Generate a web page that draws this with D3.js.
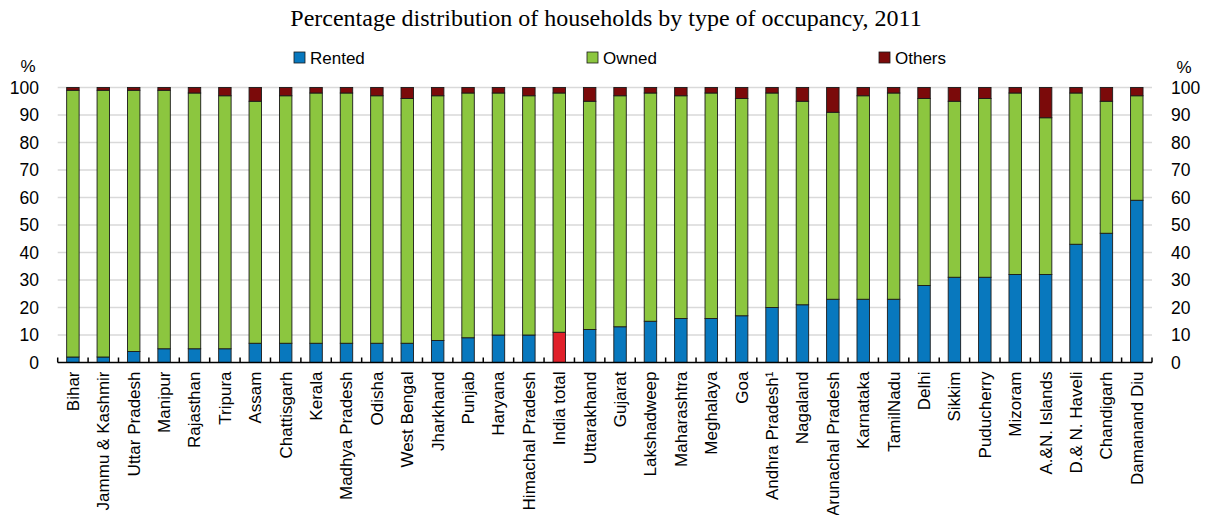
<!DOCTYPE html>
<html>
<head>
<meta charset="utf-8">
<script src="https://cdn.jsdelivr.net/npm/d3@7"></script>
<style>
  body { margin: 0; background: #fff; }
  svg { display: block; font-family: "Liberation Sans", Arial, sans-serif; }
</style>
</head>
<body>
<svg id="chart"></svg>
<script>
// states, ordered as in the picture
const categories = [
  'Bihar', 'Jammu & Kashmir', 'Uttar Pradesh', 'Manipur', 'Rajasthan', 'Tripura',
  'Assam', 'Chattisgarh', 'Kerala', 'Madhya Pradesh', 'Odisha', 'West Bengal',
  'Jharkhand', 'Punjab', 'Haryana', 'Himachal Pradesh', 'India total', 'Uttarakhand',
  'Gujarat', 'Lakshadweep', 'Maharashtra', 'Meghalaya', 'Goa', 'Andhra Pradesh\u00B9',
  'Nagaland', 'Arunachal Pradesh', 'Karnataka', 'TamilNadu', 'Delhi', 'Sikkim',
  'Puducherry', 'Mizoram', 'A.&N. Islands', 'D.& N. Haveli', 'Chandigarh', 'Damanand Diu'
]
const rented = [2, 2, 4, 5, 5, 5, 7, 7, 7, 7, 7, 7, 8, 9, 10, 10, 11, 12,
                13, 15, 16, 16, 17, 20, 21, 23, 23, 23, 28, 31, 31, 32, 32, 43, 47, 59]
const owned = [97, 97, 95, 94, 93, 92, 88, 90, 91, 91, 90, 89, 89, 89, 88, 87, 87, 83,
               84, 83, 81, 82, 79, 78, 74, 68, 74, 75, 68, 64, 65, 66, 57, 55, 48, 38]
const others = [1, 1, 1, 1, 2, 3, 5, 3, 2, 2, 3, 4, 3, 2, 2, 3, 2, 5,
                3, 2, 3, 2, 4, 2, 5, 9, 3, 2, 4, 5, 4, 2, 11, 2, 5, 3]
const series = ['Rented', 'Owned', 'Others']
const yTicks = [0, 10, 20, 30, 40, 50, 60, 70, 80, 90, 100]

const width = 1207, height = 515
const margin = {top: 87.5, right: 55, bottom: 152.5, left: 57.7}
const colors = {Rented: '#0878be', Owned: '#8cc63f', Others: '#7b0a0a'}
const highlight = '#e0202a'

const svg = d3.select('#chart').attr('width', width).attr('height', height)

const rows = categories.map((c, i) => ({category: c, Rented: rented[i], Owned: owned[i], Others: others[i]}))
const stacked = d3.stack().keys(series)(rows)

const x = d3.scaleBand()
  .domain(categories)
  .range([margin.left, width - margin.right])
  .paddingInner(0.59).paddingOuter(0.295)

const y = d3.scaleLinear()
  .domain([0, 100])
  .range([height - margin.bottom, margin.top])

// title
svg.append('text')
  .attr('x', 606).attr('y', 26)
  .attr('text-anchor', 'middle')
  .style('font-family', '"Liberation Serif", "Times New Roman", serif')
  .style('font-size', '24px')
  .text('Percentage distribution of households by type of occupancy, 2011')

// gridlines
svg.append('g')
  .selectAll('line')
  .data(yTicks.filter(d => d > 0))
  .join('line')
    .attr('x1', margin.left).attr('x2', width - margin.right)
    .attr('y1', d => y(d)).attr('y2', d => y(d))
    .attr('stroke', '#d9d9d9').attr('stroke-width', 1.3)

// bars
svg.append('g')
  .selectAll('g')
  .data(stacked)
  .join('g')
    .selectAll('rect')
    .data(d => d.map(v => ({key: d.key, v})))
    .join('rect')
      .attr('x', d => x(d.v.data.category))
      .attr('y', d => y(d.v[1]))
      .attr('width', x.bandwidth())
      .attr('height', d => y(d.v[0]) - y(d.v[1]))
      .attr('fill', d => (d.key === 'Rented' && d.v.data.category === 'India total') ? highlight : colors[d.key])
      .attr('stroke', '#1a1a1a').attr('stroke-width', 0.9)

// x axis: line and inward ticks at band edges
const bandStep = x.step()
const edges = d3.range(categories.length + 1).map(i => margin.left + i * bandStep)
const xAxis = svg.append('g')
xAxis.append('line')
  .attr('x1', margin.left).attr('x2', width - margin.right)
  .attr('y1', y(0)).attr('y2', y(0))
  .attr('stroke', '#000').attr('stroke-width', 1.5)
xAxis.selectAll('line.tick')
  .data(edges)
  .join('line')
    .attr('class', 'tick')
    .attr('x1', d => d).attr('x2', d => d)
    .attr('y1', y(0)).attr('y2', y(0) - 5)
    .attr('stroke', '#000').attr('stroke-width', 1.5)

xAxis.selectAll('text')
  .data(categories)
  .join('text')
    .attr('transform', d => `translate(${x(d) + x.bandwidth() / 2},${y(0) + 9}) rotate(-90)`)
    .attr('text-anchor', 'end')
    .attr('dy', '0.35em')
    .style('font-size', '17px')
    .text(d => d)

// y axes, labels only
const yLeft = d3.axisLeft(y).tickValues(yTicks).tickSize(0).tickPadding(0)
svg.append('g')
  .attr('transform', `translate(39,0)`)
  .call(yLeft)
  .call(g => g.select('.domain').remove())
  .selectAll('text').style('font-size', '17.5px').attr('fill', '#000').attr('font-family', null)

const yRight = d3.axisRight(y).tickValues(yTicks).tickSize(0).tickPadding(0)
svg.append('g')
  .attr('transform', `translate(1171,0)`)
  .call(yRight)
  .call(g => g.select('.domain').remove())
  .selectAll('text').style('font-size', '17.5px').attr('fill', '#000').attr('font-family', null)

svg.append('text').attr('x', 28).attr('y', 72).attr('text-anchor', 'middle')
  .style('font-size', '17px').text('%')
svg.append('text').attr('x', 1184).attr('y', 73).attr('text-anchor', 'middle')
  .style('font-size', '17px').text('%')

// legend
const legendX = [294, 587, 879]
const legend = svg.append('g')
  .selectAll('g')
  .data(series)
  .join('g')
    .attr('transform', (d, i) => `translate(${legendX[i]},52)`)
legend.append('rect')
  .attr('width', 11).attr('height', 11)
  .attr('fill', d => colors[d])
  .attr('stroke', '#1a1a1a').attr('stroke-width', 0.8)
legend.append('text')
  .attr('x', 16).attr('y', 12)
  .style('font-size', '17px')
  .text(d => d)
</script>
</body>
</html>
